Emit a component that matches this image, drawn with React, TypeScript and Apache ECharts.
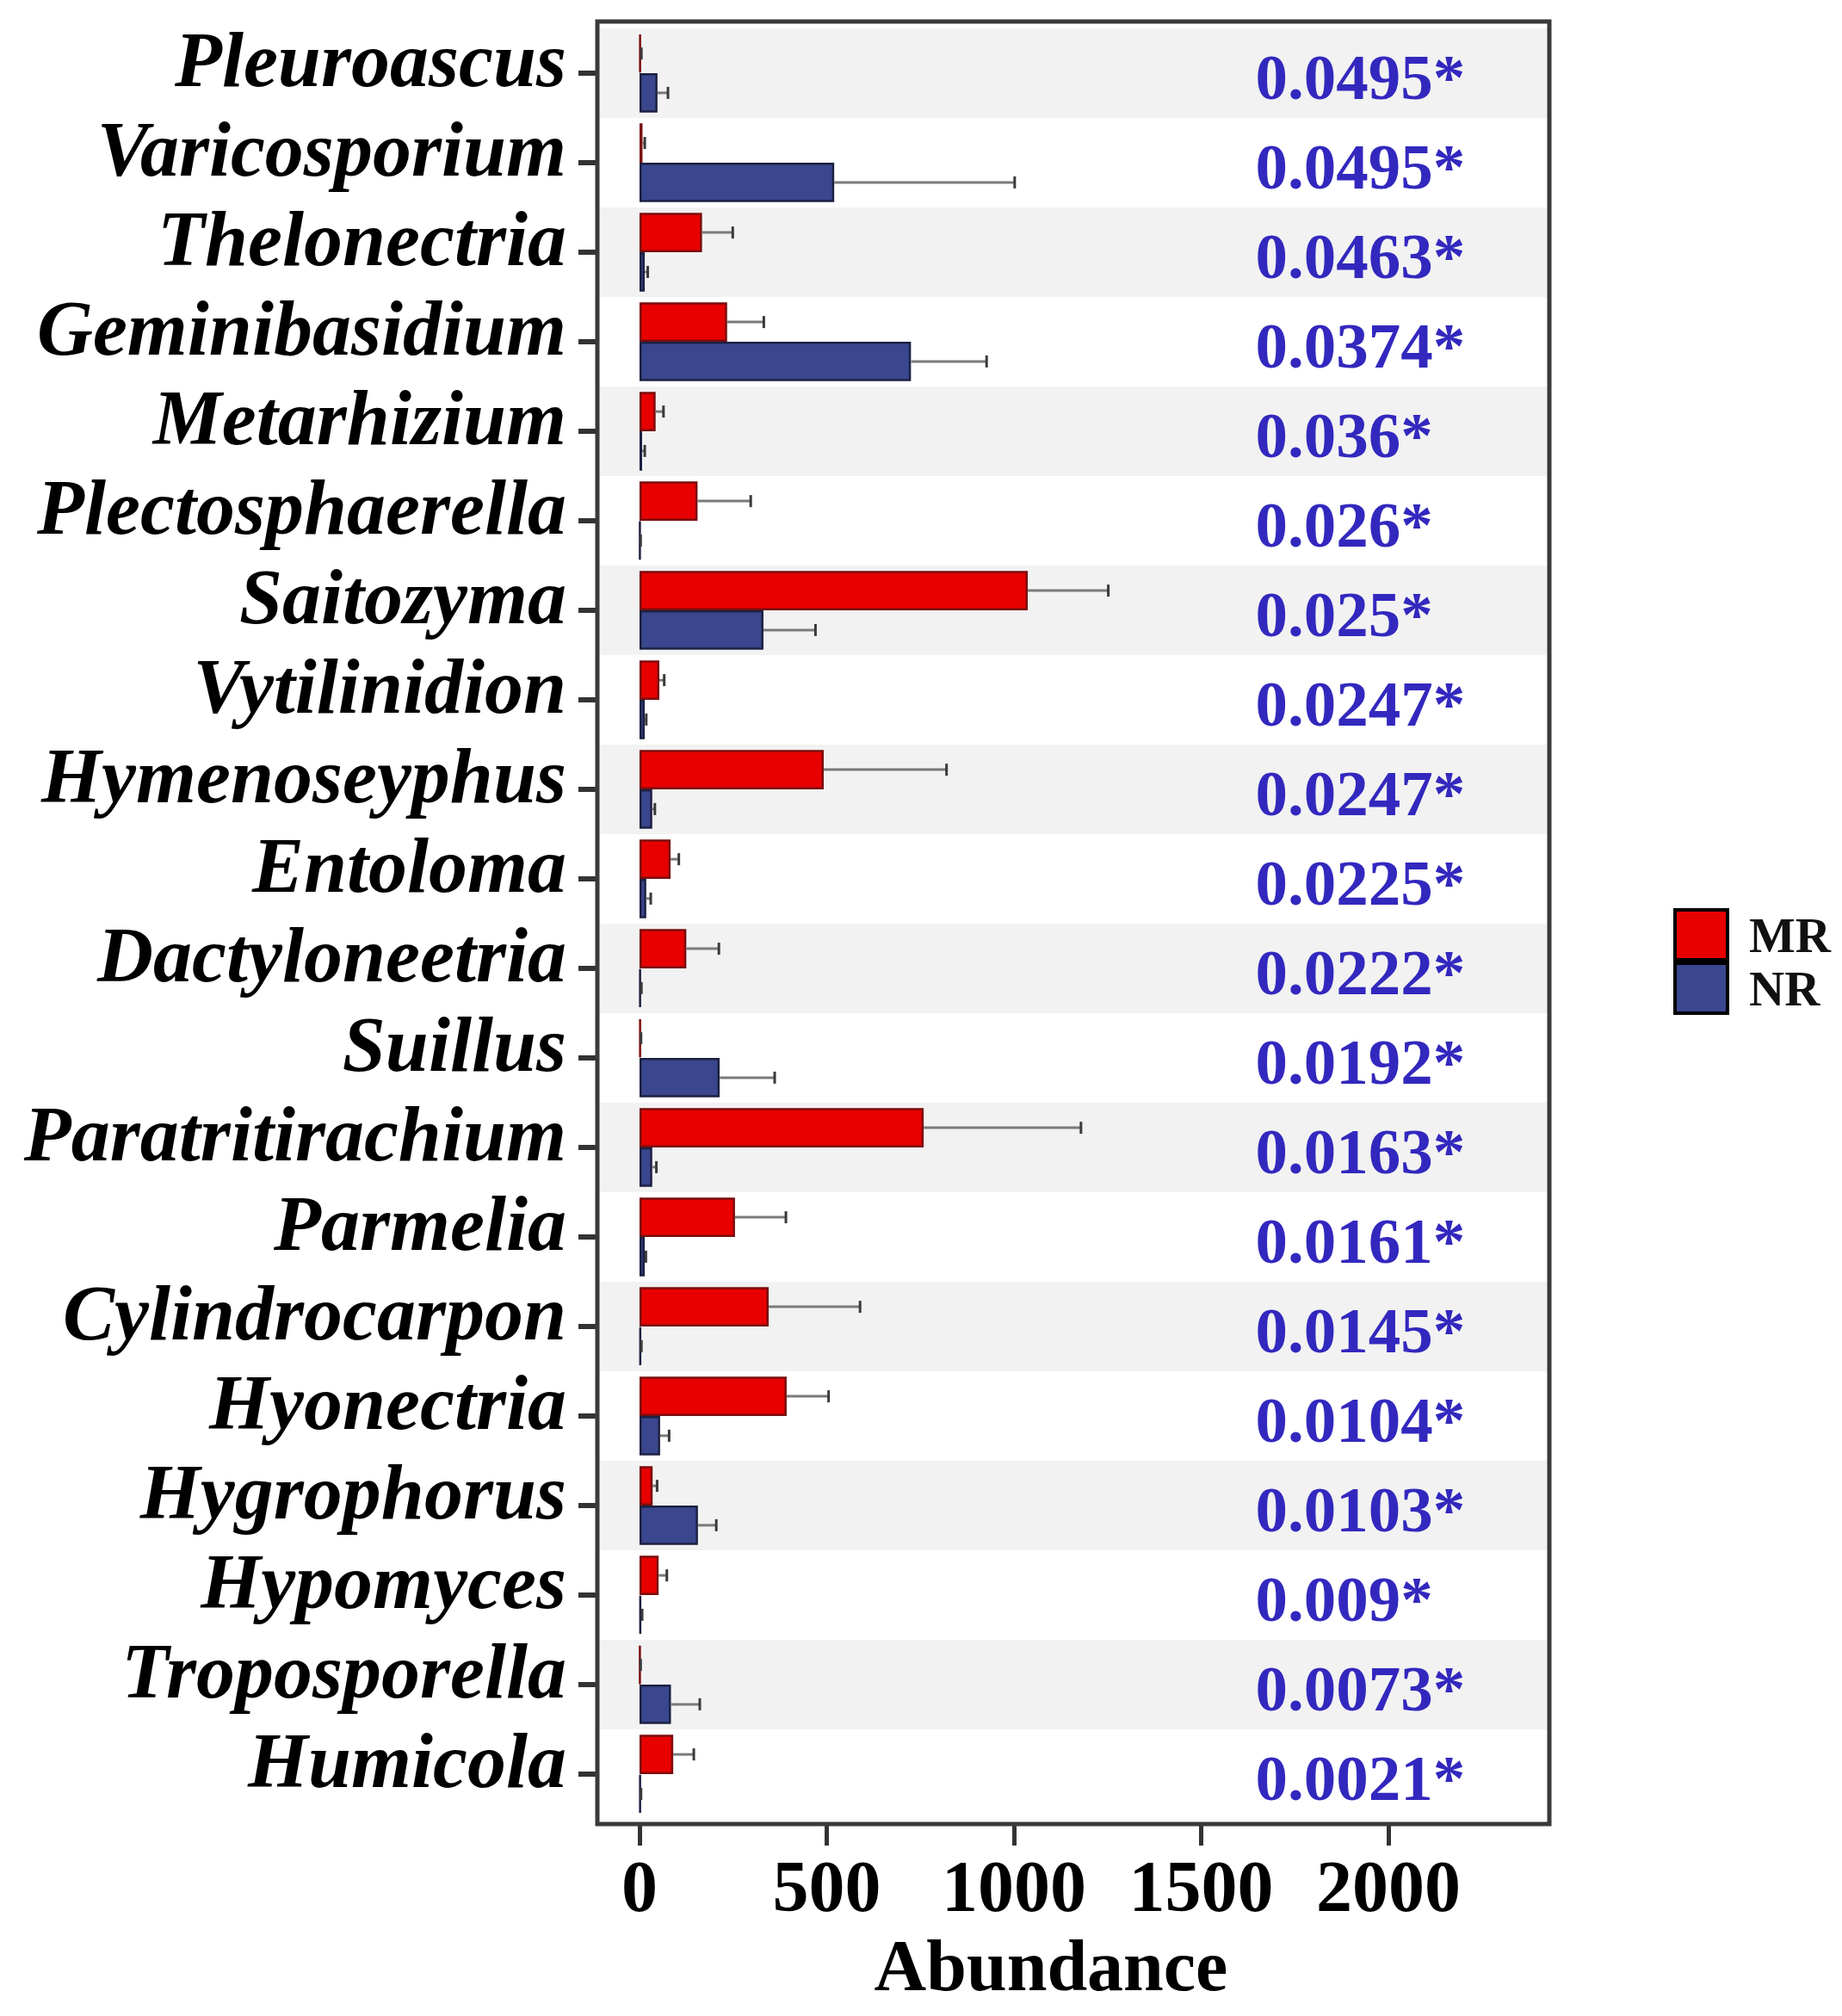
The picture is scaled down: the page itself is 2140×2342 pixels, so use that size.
import React, { useEffect, useRef } from 'react';
import * as echarts from 'echarts';

const categories = [
  'Pleuroascus', 'Varicosporium', 'Thelonectria', 'Geminibasidium', 'Metarhizium',
  'Plectosphaerella', 'Saitozyma', 'Vytilinidion', 'Hymenoseyphus', 'Entoloma',
  'Dactyloneetria', 'Suillus', 'Paratritirachium', 'Parmelia', 'Cylindrocarpon',
  'Hyonectria', 'Hygrophorus', 'Hypomyces', 'Troposporella', 'Humicola',
];
const mrMean = [3, 8, 167, 234, 43, 155, 1037, 53, 492, 83, 125, 3, 759, 255, 345, 393, 35, 51, 2, 90];
const mrErr = [2, 6, 82, 98, 21, 142, 215, 13, 328, 22, 87, 1, 420, 136, 244, 112, 12, 22, 1, 55];
const nrMean = [48, 520, 14, 725, 7, 2, 331, 14, 34, 18, 3, 214, 34, 14, 4, 55, 156, 4, 84, 3];
const nrErr = [28, 482, 8, 202, 7, 1, 139, 4, 7, 12, 2, 147, 11, 3, 1, 24, 49, 3, 77, 1];
const pValues = [
  '0.0495*', '0.0495*', '0.0463*', '0.0374*', '0.036*', '0.026*', '0.025*', '0.0247*',
  '0.0247*', '0.0225*', '0.0222*', '0.0192*', '0.0163*', '0.0161*', '0.0145*', '0.0104*',
  '0.0103*', '0.009*', '0.0073*', '0.0021*',
];
const xTicks = [0, 500, 1000, 1500, 2000];

const PVAL_X = 1645;
const FONT = "'Liberation Serif', 'Times New Roman', serif";

export default function App() {
  const ref = useRef<HTMLDivElement>(null);
  useEffect(() => {
    document.body.style.margin = '0';
    const chart = echarts.init(ref.current!, null, { renderer: 'svg' });
    const errData = [
      ...mrMean.map((v, i) => [v, mrErr[i], i, -1]),
      ...nrMean.map((v, i) => [v, nrErr[i], i, 1]),
    ];
    chart.setOption({
      animation: false,
      backgroundColor: '#ffffff',
      grid: { left: 694, right: 340, top: 33, bottom: 229, containLabel: false },
      legend: {
        data: ['MR', 'NR'],
        orient: 'vertical',
        left: 1944,
        top: 1055,
        itemWidth: 61,
        itemHeight: 58,
        itemGap: 0,
        padding: 0,
        icon: 'rect',
        itemStyle: { borderColor: '#000', borderWidth: 4 },
        textStyle: {
          fontFamily: FONT, fontSize: 57, fontWeight: 'bold', color: '#111',
          lineHeight: 58, padding: [0, 0, 0, 20],
        },
      },
      xAxis: {
        type: 'value',
        min: -112.6,
        max: 2430,
        offset: 6,
        axisLine: { show: false, onZero: false },
        splitLine: { show: false },
        axisTick: { show: true, customValues: xTicks, length: 25, lineStyle: { width: 5, color: '#333' } },
        axisLabel: {
          customValues: xTicks, fontFamily: FONT, fontSize: 84, fontWeight: 'bold', color: '#000', margin: 30,
          formatter: (v: number) => String(v),
        },
      },
      yAxis: {
        type: 'category',
        data: categories,
        inverse: true,
        position: 'left',
        axisLine: { show: false, onZero: false },
        axisTick: { show: true, interval: 0, alignWithLabel: true, length: 22, lineStyle: { width: 6, color: '#333' } },
        axisLabel: {
          interval: 0,
          margin: 36,
          formatter: (v: string) => `{a|${v}}\n{b| }`,
          rich: {
            a: {
              fontFamily: FONT, fontSize: 90, fontWeight: 'bold', fontStyle: 'italic', color: '#000',
              lineHeight: 100,
            },
            b: { fontFamily: FONT, fontSize: 10, lineHeight: 32 },
          },
        },
        splitArea: { show: true, interval: 0, areaStyle: { color: ['#f2f2f2', '#ffffff'] } },
      },
      series: [
        {
          name: 'MR', type: 'bar', data: mrMean, barGap: '0%', barCategoryGap: '12%',
          itemStyle: { color: '#e80000', borderColor: '#7b0d0d', borderWidth: 2.5 },
        },
        {
          name: 'NR', type: 'bar', data: nrMean, barGap: '0%', barCategoryGap: '12%',
          itemStyle: { color: '#3a478e', borderColor: '#1c2142', borderWidth: 2.5 },
        },
        {
          type: 'custom',
          name: 'err',
          z: 5,
          data: errData,
          encode: { x: 0, y: 2 },
          renderItem: (params: any, api: any) => {
            const v = api.value(0);
            const e = api.value(1);
            const c = api.value(2);
            const side = api.value(3);
            const p0 = api.coord([v, c]);
            const p1 = api.coord([v + e, c]);
            const band = api.size([0, 1])[1];
            const y = p0[1] + side * band * 0.22;
            return {
              type: 'group',
              children: [
                { type: 'line', shape: { x1: p0[0], y1: y, x2: p1[0], y2: y }, style: { stroke: '#7a7a7a', lineWidth: 3 } },
                { type: 'line', shape: { x1: p1[0], y1: y - 7, x2: p1[0], y2: y + 7 }, style: { stroke: '#3a3a3a', lineWidth: 3 } },
              ],
            };
          },
        },
        {
          type: 'custom',
          name: 'p',
          z: 6,
          data: categories.map((_, i) => [PVAL_X, i]),
          encode: { x: 0, y: 1 },
          renderItem: (params: any, api: any) => {
            const p = api.coord([api.value(0), api.value(1)]);
            return {
              type: 'text',
              x: p[0],
              y: p[1] + 4,
              style: {
                text: pValues[params.dataIndex],
                fill: '#3328be',
                fontFamily: FONT,
                fontSize: 75,
                fontWeight: 'bold',
                align: 'left',
                verticalAlign: 'middle',
              },
            };
          },
        },
      ],
      graphic: [
        {
          type: 'rect', z: 20, silent: true,
          shape: { x: 694, y: 25, width: 1106, height: 2094 },
          style: { fill: 'none', stroke: '#3a3a3a', lineWidth: 5 },
        },
        {
          type: 'text', z: 20, x: 1221, y: 2283,
          style: {
            text: 'Abundance', fill: '#000', fontFamily: FONT, fontSize: 84, fontWeight: 'bold',
            align: 'center', verticalAlign: 'middle',
          },
        },
      ],
    });
    return () => chart.dispose();
  }, []);
  return <div ref={ref} style={{ width: 2140, height: 2342 }} />;
}
